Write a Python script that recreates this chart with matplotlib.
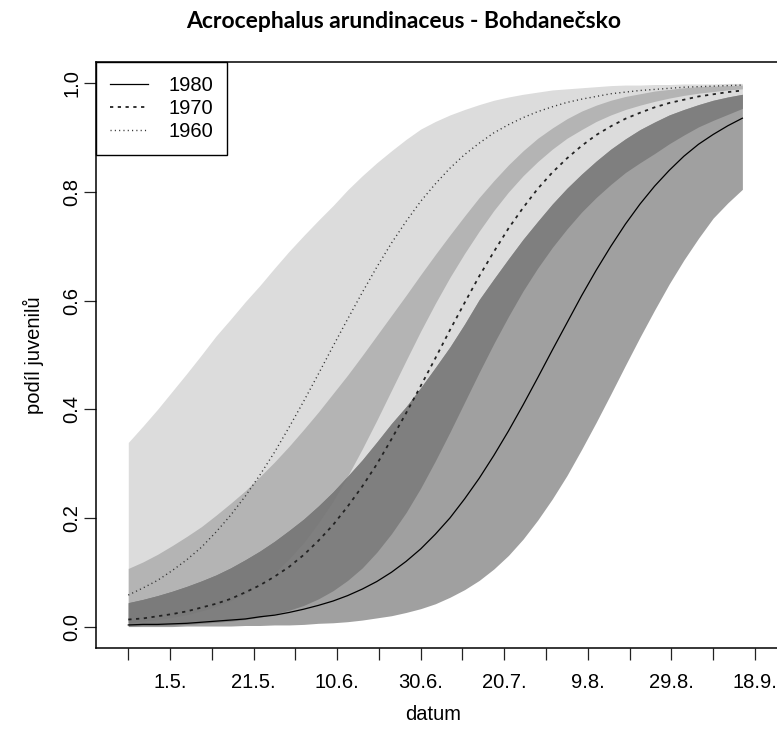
import numpy as np
import matplotlib
matplotlib.use("Agg")
import matplotlib.pyplot as plt

plt.rcParams['font.family'] = ['Liberation Sans', 'DejaVu Sans']

# days since 21.4.
days = np.array([0, 3.5, 7, 10.5, 14, 17.5, 21, 24.5, 28, 31.5, 35, 38.5, 42, 45.5, 49, 52.5, 56, 59.5, 63, 66.5, 70,
                 73.5, 77, 80.5, 84, 87.5, 91, 94.5, 98, 101.5, 105, 108.5, 112, 115.5, 119, 122.5, 126, 129.5, 133,
                 136.5, 140, 143.5, 147])

fit_1960 = np.array([0.058, 0.071, 0.085, 0.103, 0.123, 0.146, 0.174, 0.205, 0.240, 0.279, 0.321, 0.367, 0.415, 0.465,
                     0.516, 0.566, 0.615, 0.662, 0.706, 0.746, 0.783, 0.815, 0.844, 0.869, 0.890, 0.909, 0.924, 0.937,
                     0.948, 0.957, 0.965, 0.971, 0.976, 0.981, 0.984, 0.987, 0.989, 0.991, 0.993, 0.994, 0.995, 0.996, 0.997])
lo_1960 = np.array([0.007, 0.010, 0.013, 0.017, 0.022, 0.029, 0.037, 0.048, 0.061, 0.078, 0.099, 0.125, 0.155, 0.191,
                    0.231, 0.277, 0.327, 0.380, 0.435, 0.490, 0.544, 0.595, 0.643, 0.687, 0.728, 0.766, 0.800, 0.830,
                    0.856, 0.879, 0.899, 0.915, 0.930, 0.942, 0.952, 0.960, 0.967, 0.973, 0.978, 0.982, 0.985, 0.988, 0.990])
hi_1960 = np.array([0.339, 0.369, 0.400, 0.433, 0.466, 0.500, 0.535, 0.566, 0.598, 0.628, 0.660, 0.691, 0.720, 0.748,
                    0.775, 0.804, 0.830, 0.854, 0.876, 0.897, 0.916, 0.930, 0.942, 0.952, 0.961, 0.969, 0.975, 0.980,
                    0.984, 0.988, 0.990, 0.992, 0.994, 0.996, 0.997, 0.997, 0.998, 0.998, 0.999, 0.999, 0.999, 1.000, 1.000])

fit_1970 = np.array([0.013, 0.015, 0.019, 0.023, 0.028, 0.035, 0.042, 0.051, 0.063, 0.076, 0.092, 0.110, 0.132, 0.158,
                     0.187, 0.221, 0.258, 0.299, 0.345, 0.393, 0.443, 0.494, 0.546, 0.596, 0.645, 0.690, 0.733, 0.771,
                     0.806, 0.836, 0.862, 0.885, 0.905, 0.921, 0.935, 0.946, 0.956, 0.964, 0.970, 0.976, 0.980, 0.984, 0.987])
lo_1970 = np.array([0.001, 0.002, 0.002, 0.003, 0.004, 0.006, 0.008, 0.010, 0.013, 0.017, 0.023, 0.030, 0.039, 0.051,
                    0.066, 0.085, 0.108, 0.137, 0.171, 0.210, 0.255, 0.305, 0.358, 0.413, 0.468, 0.521, 0.571, 0.618,
                    0.660, 0.698, 0.732, 0.763, 0.790, 0.814, 0.836, 0.854, 0.871, 0.889, 0.905, 0.920, 0.932, 0.943, 0.954])
hi_1970 = np.array([0.107, 0.119, 0.133, 0.149, 0.166, 0.184, 0.205, 0.227, 0.250, 0.276, 0.303, 0.332, 0.363, 0.395,
                    0.429, 0.463, 0.499, 0.536, 0.573, 0.610, 0.648, 0.685, 0.721, 0.756, 0.790, 0.821, 0.850, 0.876,
                    0.899, 0.918, 0.935, 0.949, 0.960, 0.969, 0.976, 0.981, 0.986, 0.989, 0.992, 0.994, 0.995, 0.996, 0.997])

fit_1980 = np.array([0.003, 0.004, 0.004, 0.005, 0.006, 0.008, 0.010, 0.012, 0.014, 0.018, 0.021, 0.026, 0.032, 0.039,
                     0.047, 0.057, 0.069, 0.083, 0.100, 0.120, 0.143, 0.170, 0.200, 0.235, 0.273, 0.315, 0.360, 0.408,
                     0.458, 0.509, 0.559, 0.609, 0.656, 0.700, 0.741, 0.778, 0.811, 0.840, 0.866, 0.888, 0.906, 0.922, 0.936])
lo_1980 = np.array([0.000, 0.000, 0.000, 0.000, 0.001, 0.001, 0.001, 0.001, 0.002, 0.002, 0.003, 0.003, 0.004, 0.006,
                    0.007, 0.009, 0.012, 0.016, 0.020, 0.026, 0.033, 0.042, 0.054, 0.068, 0.085, 0.106, 0.131, 0.161,
                    0.196, 0.235, 0.278, 0.326, 0.376, 0.428, 0.481, 0.533, 0.583, 0.631, 0.675, 0.715, 0.752, 0.780, 0.805])
hi_1980 = np.array([0.044, 0.050, 0.057, 0.065, 0.074, 0.084, 0.095, 0.108, 0.123, 0.139, 0.157, 0.177, 0.198, 0.222,
                    0.248, 0.277, 0.307, 0.340, 0.374, 0.405, 0.440, 0.477, 0.515, 0.557, 0.602, 0.640, 0.677, 0.713,
                    0.746, 0.778, 0.807, 0.833, 0.857, 0.879, 0.898, 0.915, 0.929, 0.942, 0.952, 0.961, 0.969, 0.975, 0.980])

tick_days = [0, 10, 20, 30, 40, 50, 60, 70, 80, 90, 100, 110, 120, 130, 140, 150]
tick_labels = ['', '1.5.', '', '21.5.', '', '10.6.', '', '30.6.', '', '20.7.', '', '9.8.', '', '29.8.', '', '18.9.']

fig = plt.figure(figsize=(7.77, 7.40), dpi=100)
ax = fig.add_axes([96 / 777, (740 - 648.3) / 740, (790 - 96) / 777, (648.3 - 61.7) / 740])


def overlap(ax, lo_a, hi_a, lo_b, hi_b, col):
    lo = np.maximum(lo_a, lo_b)
    hi = np.minimum(hi_a, hi_b)
    ax.fill_between(days, lo, hi, where=hi > lo, interpolate=True, color=col, lw=0)


# confidence bands and their overlaps
ax.fill_between(days, lo_1960, hi_1960, color='#dcdcdc', lw=0)
ax.fill_between(days, lo_1970, hi_1970, color='#dcdcdc', lw=0)
ax.fill_between(days, lo_1980, hi_1980, color='#a0a0a0', lw=0)
overlap(ax, lo_1960, hi_1960, lo_1970, hi_1970, '#b4b4b4')
overlap(ax, lo_1970, hi_1970, lo_1980, hi_1980, '#7f7f7f')
overlap(ax, lo_1960, hi_1960, lo_1980, hi_1980, '#7b7b7b')

ax.plot(days, fit_1980, color='black', lw=0.9, label='1980')
ax.plot(days, fit_1970, color='#222222', lw=1.3, dashes=(1.8, 2.5), label='1970')
ax.plot(days, fit_1960, color='#333333', lw=1.0, dashes=(0.8, 2.3), label='1960')

ax.set_xlim(-7.73, 158.4)
ax.set_ylim(-0.04, 1.04)
ax.set_xticks(tick_days)
ax.set_xticklabels(tick_labels)
ax.set_yticks([0, 0.2, 0.4, 0.6, 0.8, 1.0])
ax.set_yticklabels(['0.0', '0.2', '0.4', '0.6', '0.8', '1.0'], rotation=90, va='center')
ax.tick_params(axis='both', length=8.6, width=0.9, labelsize=14.5, color='#222222')
ax.tick_params(axis='x', pad=9)
ax.tick_params(axis='y', pad=2)
for s in ax.spines.values():
    s.set_linewidth(1.1)

leg = ax.legend(loc='upper left', bbox_to_anchor=(0, 1), borderaxespad=0, fancybox=False,
                edgecolor='black', framealpha=1, fontsize=14.5, handlelength=1.9,
                handletextpad=1.0, borderpad=0.7, labelspacing=0.2)
leg.get_frame().set_linewidth(1.0)

fig.text(404 / 777, 1 - 28 / 740, 'Acrocephalus arundinaceus - Bohdanečsko', ha='center', va='baseline',
         fontsize=16.5, fontweight='bold', family=['Lato', 'DejaVu Sans'])
fig.text(433 / 777, 1 - 715 / 740, 'datum', ha='center', va='center', fontsize=14.5)
fig.text(33.3 / 777, 1 - 355 / 740, 'podíl juvenilů', ha='center', va='center', rotation=90, fontsize=14.5)

fig.savefig('out.png', dpi=100)
